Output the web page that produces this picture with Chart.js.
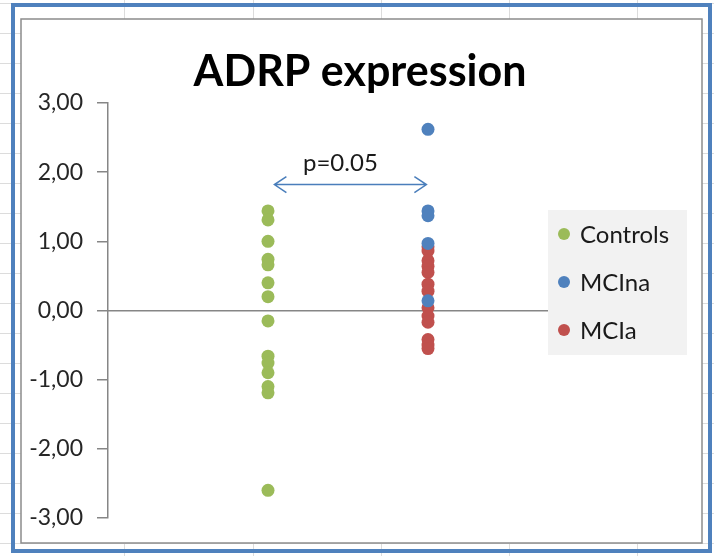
<!DOCTYPE html>
<html><head><meta charset="utf-8">
<script src="https://cdn.jsdelivr.net/npm/chart.js@4.4.1/dist/chart.umd.min.js"></script>
<style>html,body{margin:0;padding:0;background:#fff;overflow:hidden}canvas{display:block}</style>
</head><body>
<canvas id="c" width="714" height="556"></canvas>
<script>
// ---- data ----
const chartTitle = 'ADRP expression';
const seriesNames = ['Controls', 'MCIna', 'MCIa'];
const seriesColors = ['#9bbb59', '#4f81bd', '#c0504d'];
const groupX = [1, 2, 2];
const controls = [1.44, 1.31, 1.00, 0.74, 0.66, 0.40, 0.20, -0.15, -0.66, -0.76, -0.90, -1.10, -1.19, -2.60];
const mciNa = [2.62, 1.44, 1.37, 0.97, 0.14];
const mciA = [0.92, 0.86, 0.72, 0.64, 0.55, 0.38, 0.28, 0.04, -0.08, -0.17, -0.42, -0.50, -0.55];
const yTickValues = [-3, -2, -1, 0, 1, 2, 3];
const yTickLabels = ['-3,00', '-2,00', '-1,00', '0,00', '1,00', '2,00', '3,00'];
const pValueText = 'p=0.05';
const pBracket = {from: 1.04, to: 1.99, y: 1.82};

const seriesValues = [controls, mciNa, mciA];
const FONT = 'Lato';

const backdrop = {
  id: 'backdrop',
  beforeDraw(chart) {
    const ctx = chart.ctx, W = chart.width, H = chart.height;
    ctx.save();
    ctx.fillStyle = '#fff';
    ctx.fillRect(0, 0, W, H);
    ctx.strokeStyle = '#dcdcdc';
    ctx.lineWidth = 1;
    ctx.beginPath();
    [124, 253, 381, 509, 637].forEach(x => { ctx.moveTo(x + 0.5, 0); ctx.lineTo(x + 0.5, H); });
    for (let y = 3; y < H; y += 30) { ctx.moveTo(0, y + 0.5); ctx.lineTo(W, y + 0.5); }
    ctx.stroke();
    ctx.strokeStyle = '#4f81bd';
    ctx.lineWidth = 4;
    ctx.strokeRect(13, 5, 697, 546);
    ctx.fillStyle = '#fff';
    ctx.fillRect(21, 19, 681, 524);
    ctx.strokeStyle = '#8c8c8c';
    ctx.lineWidth = 1.5;
    ctx.strokeRect(21, 19, 681, 524);
    ctx.restore();
  }
};

const legendBox = {
  id: 'legendBox',
  afterDraw(chart) {
    const ctx = chart.ctx;
    const left = chart.chartArea.right;
    ctx.save();
    ctx.fillStyle = '#f2f2f2';
    ctx.fillRect(left, 210, 139, 145);
    ctx.font = '24px ' + FONT;
    ctx.textBaseline = 'middle';
    ctx.textAlign = 'left';
    chart.data.datasets.forEach((ds, i) => {
      const cy = 234 + i * 48;
      ctx.fillStyle = ds.backgroundColor;
      ctx.beginPath();
      ctx.arc(left + 16, cy, 6, 0, Math.PI * 2);
      ctx.fill();
      ctx.fillStyle = '#1a1a1a';
      ctx.fillText(ds.label, left + 32, cy + 1);
    });
    ctx.restore();
  }
};

const pAnnot = {
  id: 'pAnnot',
  afterDraw(chart) {
    const ctx = chart.ctx, xs = chart.scales.x, ys = chart.scales.y;
    const x1 = xs.getPixelForValue(pBracket.from);
    const x2 = xs.getPixelForValue(pBracket.to);
    const y = ys.getPixelForValue(pBracket.y);
    ctx.save();
    ctx.strokeStyle = '#4a7ebb';
    ctx.lineWidth = 1.5;
    ctx.beginPath();
    ctx.moveTo(x1, y); ctx.lineTo(x2, y);
    ctx.moveTo(x1 + 12, y - 8); ctx.lineTo(x1, y); ctx.lineTo(x1 + 12, y + 8);
    ctx.moveTo(x2 - 12, y - 8); ctx.lineTo(x2, y); ctx.lineTo(x2 - 12, y + 8);
    ctx.stroke();
    ctx.fillStyle = '#1a1a1a';
    ctx.font = '24px ' + FONT;
    ctx.textAlign = 'center';
    ctx.textBaseline = 'alphabetic';
    ctx.fillText(pValueText, (x1 + x2) / 2 - 10, y - 14);
    ctx.restore();
  }
};

new Chart(document.getElementById('c'), {
  type: 'scatter',
  data: {
    datasets: seriesNames.map((name, i) => ({
      label: name,
      data: seriesValues[i].map(v => ({x: groupX[i], y: v})),
      backgroundColor: seriesColors[i],
      borderWidth: 0,
      pointRadius: 6.5,
      pointHoverRadius: 6.5
    }))
  },
  options: {
    responsive: false,
    animation: false,
    devicePixelRatio: 1,
    layout: {padding: {left: 21, right: 15, top: 20, bottom: 38}},
    plugins: {
      legend: {display: false},
      tooltip: {enabled: false},
      title: {
        display: true,
        text: chartTitle,
        color: '#000',
        font: {family: FONT, size: 43, weight: 'bold'},
        padding: {top: 26, bottom: 5.4}
      }
    },
    scales: {
      x: {
        type: 'linear', min: 0, max: 2.75,
        position: {y: 0},
        ticks: {display: false},
        grid: {display: false, drawTicks: false},
        border: {display: true, color: '#868686', width: 1.5}
      },
      y: {
        type: 'linear', min: -3, max: 3, position: 'left',
        afterFit(s) { s.width = 87; },
        afterBuildTicks(s) { s.ticks = yTickValues.map(v => ({value: v})); },
        ticks: {
          callback: (v) => yTickLabels[yTickValues.indexOf(v)],
          font: {family: FONT, size: 23},
          color: '#262626',
          padding: 14
        },
        grid: {drawOnChartArea: false, tickLength: 11, color: '#868686', lineWidth: 1.5},
        border: {display: true, color: '#868686', width: 1.5}
      },
      yR: {
        type: 'linear', position: 'right', display: true,
        ticks: {display: false},
        grid: {display: false, drawTicks: false},
        border: {display: false},
        afterFit(s) { s.width = 151; }
      }
    }
  },
  plugins: [backdrop, legendBox, pAnnot]
});
</script>
</body></html>
